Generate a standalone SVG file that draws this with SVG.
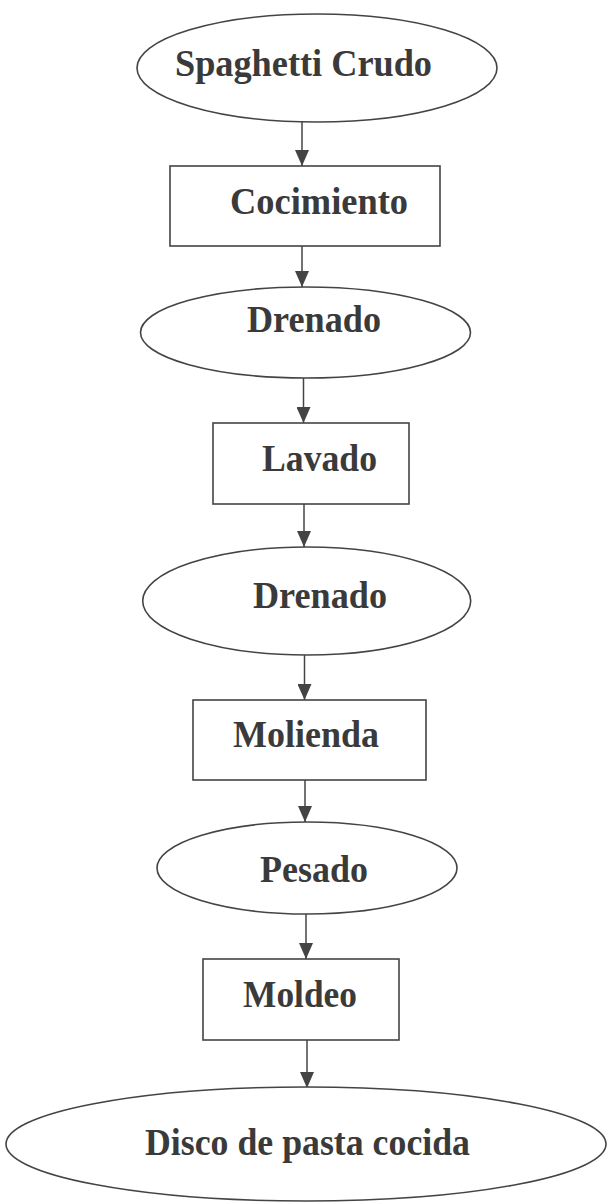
<svg xmlns="http://www.w3.org/2000/svg" width="608" height="1203" viewBox="0 0 608 1203">
<style>
.shape{fill:#ffffff;stroke:#444;stroke-width:1.6}
.lbl{font-family:"Liberation Serif","Times New Roman",serif;font-weight:bold;font-size:38px;fill:#3a3a3a}
.edge{stroke:#444;stroke-width:1.5;fill:none}
</style>
<defs>
<marker id="arr" viewBox="0 0 16 14" refX="16" refY="7" markerWidth="16" markerHeight="14" markerUnits="userSpaceOnUse" orient="auto">
<path d="M0,0 L16,7 L0,14 Z" fill="#444"/>
</marker>
</defs>
<rect width="608" height="1203" fill="#ffffff"/>
<g id="connectors">
<line class="edge" x1="302" y1="122" x2="302" y2="166" marker-end="url(#arr)"/>
<line class="edge" x1="302" y1="246" x2="302" y2="287" marker-end="url(#arr)"/>
<line class="edge" x1="303.5" y1="378" x2="303.5" y2="423" marker-end="url(#arr)"/>
<line class="edge" x1="304" y1="504" x2="304" y2="547" marker-end="url(#arr)"/>
<line class="edge" x1="304.5" y1="655" x2="304.5" y2="700" marker-end="url(#arr)"/>
<line class="edge" x1="305" y1="780" x2="305" y2="822" marker-end="url(#arr)"/>
<line class="edge" x1="306" y1="914" x2="306" y2="959" marker-end="url(#arr)"/>
<line class="edge" x1="307" y1="1040" x2="307" y2="1088" marker-end="url(#arr)"/>
</g>
<g id="n1">
<ellipse class="shape" cx="317" cy="68" rx="180" ry="54"/>
<text class="lbl" x="175" y="76" font-size="40" textLength="257" lengthAdjust="spacingAndGlyphs">Spaghetti Crudo</text>
</g>
<g id="n2">
<rect class="shape" x="170" y="166" width="270" height="80"/>
<text class="lbl" x="230" y="214" textLength="178" lengthAdjust="spacingAndGlyphs">Cocimiento</text>
</g>
<g id="n3">
<ellipse class="shape" cx="305.5" cy="332.5" rx="165" ry="45.5"/>
<text class="lbl" x="247" y="332" textLength="134" lengthAdjust="spacingAndGlyphs">Drenado</text>
</g>
<g id="n4">
<rect class="shape" x="213" y="423" width="196" height="81"/>
<text class="lbl" x="262" y="471" textLength="115" lengthAdjust="spacingAndGlyphs">Lavado</text>
</g>
<g id="n5">
<ellipse class="shape" cx="306.7" cy="601" rx="164" ry="54"/>
<text class="lbl" x="253" y="608" textLength="134" lengthAdjust="spacingAndGlyphs">Drenado</text>
</g>
<g id="n6">
<rect class="shape" x="193" y="700" width="233" height="80"/>
<text class="lbl" x="233" y="747" textLength="146" lengthAdjust="spacingAndGlyphs">Molienda</text>
</g>
<g id="n7">
<ellipse class="shape" cx="307" cy="868" rx="150" ry="46"/>
<text class="lbl" x="260" y="882" textLength="108" lengthAdjust="spacingAndGlyphs">Pesado</text>
</g>
<g id="n8">
<rect class="shape" x="203" y="959" width="196" height="81"/>
<text class="lbl" x="243" y="1007" textLength="114" lengthAdjust="spacingAndGlyphs">Moldeo</text>
</g>
<g id="n9">
<ellipse class="shape" cx="306" cy="1144" rx="300" ry="57"/>
<text class="lbl" x="145" y="1155" font-size="43" textLength="325" lengthAdjust="spacingAndGlyphs">Disco de pasta cocida</text>
</g>
</svg>
